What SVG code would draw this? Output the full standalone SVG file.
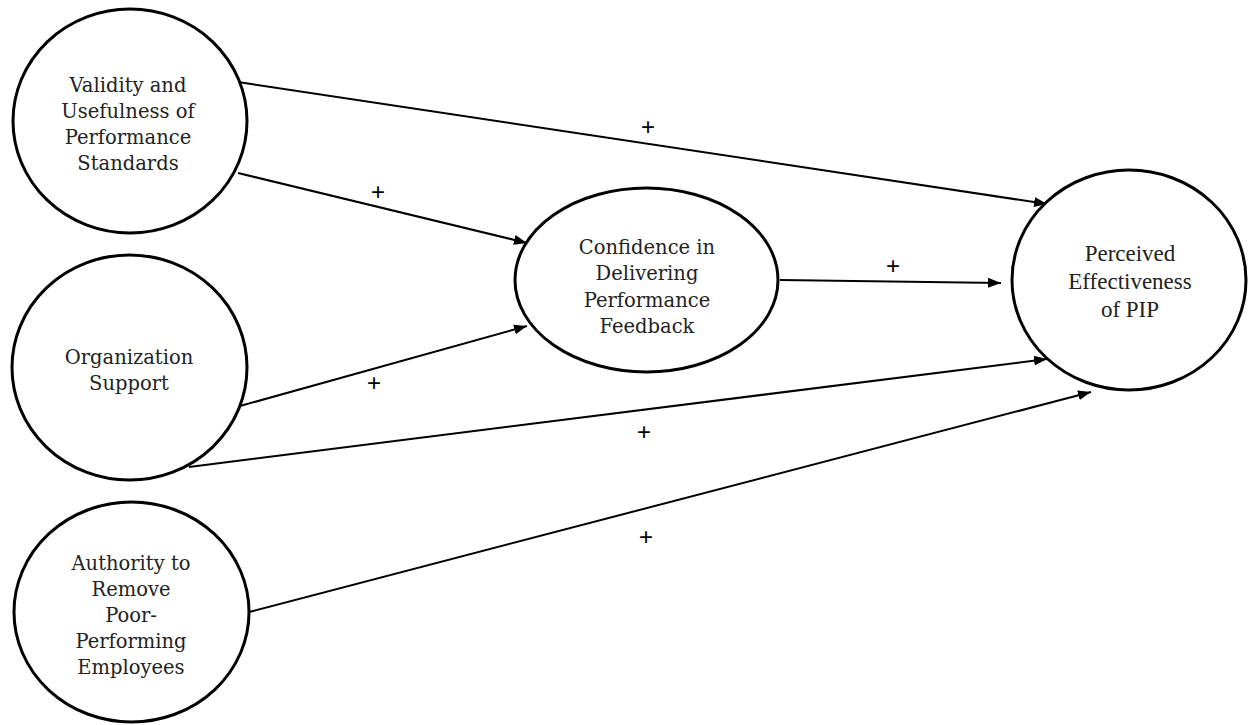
<svg xmlns="http://www.w3.org/2000/svg" width="1248" height="725" viewBox="0 0 1248 725">
<style>
.node{fill:#fff;stroke:#000;stroke-width:3}
.t{font-family:"DejaVu Serif","Liberation Serif",serif;font-size:19.5px;fill:#222;text-anchor:middle}
.tr{font-family:"Liberation Serif","Times New Roman",serif;font-size:23px;fill:#222;text-anchor:middle}
.edge{stroke:#000;stroke-width:2;fill:none}
.plus{font-family:"Liberation Sans",Arial,sans-serif;font-size:24px;fill:#000;text-anchor:middle}
</style>
<defs>
<marker id="arr" markerUnits="userSpaceOnUse" markerWidth="14" markerHeight="12" refX="13" refY="6" orient="auto">
<path d="M0,1 L13,6 L0,11 Z" fill="#000"/>
</marker>
</defs>
<rect width="1248" height="725" fill="#fff"/>
<g id="connectors">
<line class="edge" x1="238" y1="82" x2="1047" y2="204" marker-end="url(#arr)"/>
<line class="edge" x1="238" y1="173" x2="527" y2="243" marker-end="url(#arr)"/>
<line class="edge" x1="240" y1="406" x2="527" y2="326" marker-end="url(#arr)"/>
<line class="edge" x1="189" y1="467" x2="1047" y2="359" marker-end="url(#arr)"/>
<line class="edge" x1="249" y1="612" x2="1091" y2="392" marker-end="url(#arr)"/>
<line class="edge" x1="780" y1="280" x2="1001" y2="283" marker-end="url(#arr)"/>
<text class="plus" x="648" y="135">+</text>
<text class="plus" x="378" y="200">+</text>
<text class="plus" x="374" y="391">+</text>
<text class="plus" x="893" y="274">+</text>
<text class="plus" x="644" y="440">+</text>
<text class="plus" x="646" y="545">+</text>
</g>
<g id="validity">
<ellipse class="node" cx="130" cy="121" rx="117" ry="112"/>
<text class="t" x="128" y="92">Validity and</text>
<text class="t" x="128" y="118">Usefulness of</text>
<text class="t" x="128" y="144">Performance</text>
<text class="t" x="128" y="170">Standards</text>
</g>
<g id="orgsupport">
<ellipse class="node" cx="129.5" cy="367.5" rx="117.5" ry="112.5"/>
<text class="t" x="129" y="364">Organization</text>
<text class="t" x="129" y="390">Support</text>
</g>
<g id="authority">
<ellipse class="node" cx="131.5" cy="612" rx="117.5" ry="110"/>
<text class="t" x="131" y="570">Authority to</text>
<text class="t" x="131" y="596">Remove</text>
<text class="t" x="131" y="622">Poor-</text>
<text class="t" x="131" y="648">Performing</text>
<text class="t" x="131" y="674">Employees</text>
</g>
<g id="confidence">
<ellipse class="node" cx="646.5" cy="280" rx="131.5" ry="92"/>
<text class="t" x="647" y="254">Confidence in</text>
<text class="t" x="647" y="280">Delivering</text>
<text class="t" x="647" y="307">Performance</text>
<text class="t" x="647" y="333">Feedback</text>
</g>
<g id="pip">
<ellipse class="node" cx="1129" cy="280" rx="117" ry="110"/>
<text class="tr" x="1130" y="261">Perceived</text>
<text class="tr" x="1130" y="289">Effectiveness</text>
<text class="tr" x="1130" y="317">of PIP</text>
</g>
</svg>
